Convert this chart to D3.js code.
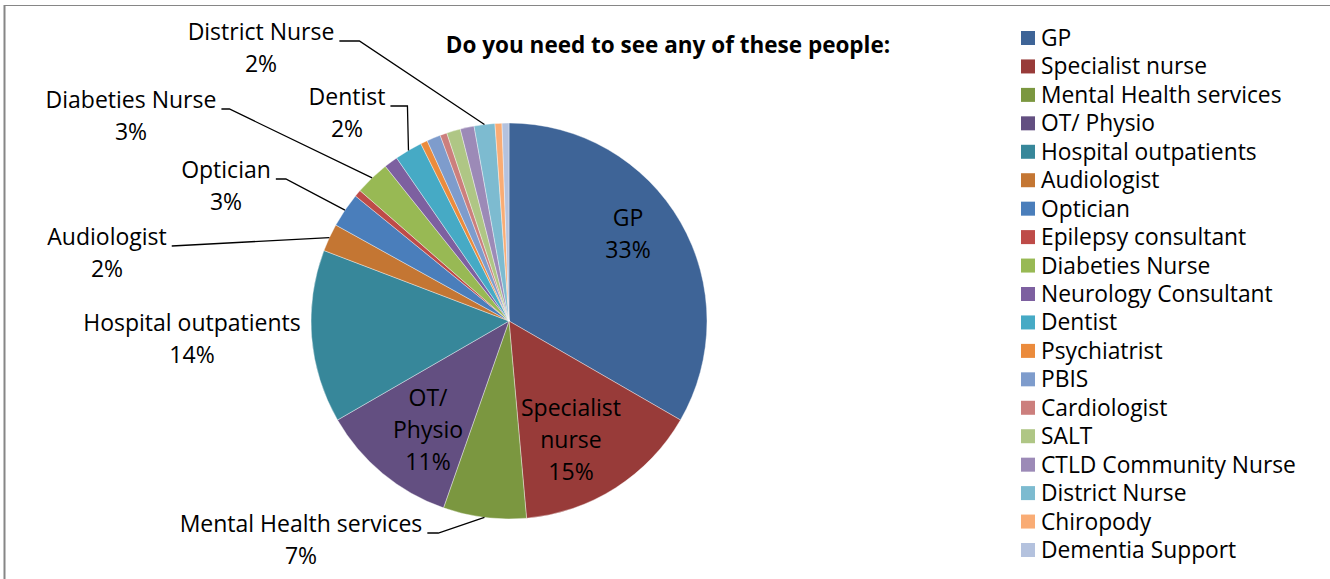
<!DOCTYPE html>
<html>
<head>
<meta charset="utf-8">
<script src="https://cdn.jsdelivr.net/npm/d3@7"></script>
<style>
  html, body { margin: 0; padding: 0; background: #ffffff; }
  svg { display: block; }
  text { font-family: "Open Sans", Lato, sans-serif; fill: #000; }
</style>
</head>
<body>
<svg id="chart" width="1330" height="579"></svg>
<script>
// ---- Data (counts per service) ----
const categories = [
  "GP", "Specialist nurse", "Mental Health services", "OT/ Physio",
  "Hospital outpatients", "Audiologist", "Optician", "Epilepsy consultant",
  "Diabeties Nurse", "Neurology Consultant", "Dentist", "Psychiatrist",
  "PBIS", "Cardiologist", "SALT", "CTLD Community Nurse", "District Nurse",
  "Chiropody", "Dementia Support"
];
const values = [59, 27, 12, 20, 25, 4, 5, 1, 5, 2, 4, 1, 2, 1, 2, 2, 3, 1, 1];
const colors = [
  "#3E6497", "#983B39", "#7B9740", "#634F81", "#37879A", "#C47633",
  "#4A7EBB", "#BE4B48", "#98B954", "#7D60A0", "#46AAC5", "#EB8B3C",
  "#7E9CCC", "#CC7F7D", "#AFC685", "#9C8AB7", "#7DBBD0", "#F9AC75",
  "#B4C2DE"
];
const titleText = "Do you need to see any of these people:";

// ---- Label layout (first-line centre relative to the pie centre) ----
const labelLayout = {
  "GP":                    { lines: ["GP"], dx: 119, dy: -103 },
  "Specialist nurse":      { lines: ["Specialist", "nurse"], dx: 62, dy: 87 },
  "OT/ Physio":            { lines: ["OT/", "Physio"], dx: -81, dy: 77 },
  "Mental Health services":{ lines: ["Mental Health services"], dx: -208, dy: 203, leader: 11 },
  "Hospital outpatients":  { lines: ["Hospital outpatients"], dx: -317, dy: 2 },
  "Audiologist":           { lines: ["Audiologist"], dx: -402, dy: -84, leader: 0 },
  "Optician":              { lines: ["Optician"], dx: -283, dy: -151, leader: 10 },
  "Diabeties Nurse":       { lines: ["Diabeties Nurse"], dx: -378, dy: -221, leader: 8 },
  "Dentist":               { lines: ["Dentist"], dx: -162, dy: -224, leader: 17 },
  "District Nurse":        { lines: ["District Nurse"], dx: -248, dy: -289, leader: 20 }
};

// ---- Setup ----
const W = 1330, H = 579;
const cx = 509, cy = 321, R = 198;
const fontSize = 23, lineH = 32;
const svg = d3.select("#chart");

// chart area border
svg.append("line").attr("x1", 4.5).attr("y1", 5).attr("x2", 4.5).attr("y2", H)
  .attr("stroke", "#868686").attr("stroke-width", 2);
svg.append("line").attr("x1", 4).attr("y1", 5.5).attr("x2", W).attr("y2", 5.5)
  .attr("stroke", "#868686").attr("stroke-width", 1.2);

const data = categories.map((c, i) => ({ name: c, value: values[i] }));
const total = d3.sum(values);
const color = d3.scaleOrdinal().domain(categories).range(colors);

const pie = d3.pie().sort(null).value(d => d.value).startAngle(0).endAngle(2 * Math.PI);
const arcs = pie(data);
const arc = d3.arc().innerRadius(0).outerRadius(R);
const edgeArc = d3.arc().innerRadius(R).outerRadius(R);

const g = svg.append("g").attr("transform", `translate(${cx},${cy})`);
g.selectAll("path.slice").data(arcs).join("path")
  .attr("class", "slice")
  .attr("d", arc)
  .attr("fill", d => color(d.data.name))
  .attr("stroke", "rgba(255,255,255,0.55)")
  .attr("stroke-width", 0.7);

// ---- Data labels ----
const lab = svg.append("g");
arcs.forEach(a => {
  const L = labelLayout[a.data.name];
  if (!L) return;
  const pct = Math.round(a.data.value / total * 100) + "%";
  const lines = L.lines.concat([pct]);
  const x = cx + L.dx;
  const firstY = cy + L.dy;
  const t = lab.append("text")
    .attr("text-anchor", "middle")
    .attr("font-size", fontSize);
  lines.forEach((ln, i) => {
    t.append("tspan").attr("x", x).attr("y", firstY + i * lineH + fontSize * 0.35).text(ln);
  });
  if (L.leader !== undefined) {
    const tmp = lab.append("text").attr("font-size", fontSize).text(lines[0]);
    const w = tmp.node().getComputedTextLength();
    tmp.remove();
    const sx = x + w / 2 + 5;
    const sy = firstY + 9;
    const e = edgeArc.centroid(a);
    const ex = cx + e[0], ey = cy + e[1];
    const pts = L.leader > 0 ? [[sx, sy], [sx + L.leader, sy], [ex, ey]] : [[sx, sy], [ex, ey]];
    lab.append("path")
      .attr("d", d3.line()(pts))
      .attr("fill", "none")
      .attr("stroke", "#000")
      .attr("stroke-width", 1.3);
  }
});

// ---- Title ----
svg.append("text")
  .attr("x", 668).attr("y", 45 + 7.5)
  .attr("text-anchor", "middle")
  .attr("font-size", 22.5)
  .attr("font-weight", "bold")
  .text(titleText);

// ---- Legend ----
const legendY = d3.scalePoint().domain(categories).range([38, 550]);
const leg = svg.append("g");
const items = leg.selectAll("g").data(categories).join("g")
  .attr("transform", d => `translate(1021,${legendY(d)})`);
items.append("rect").attr("x", 0).attr("y", -7).attr("width", 14).attr("height", 14)
  .attr("fill", d => color(d));
items.append("text").attr("x", 20).attr("y", 8).attr("font-size", 22.8).text(d => d);
</script>
</body>
</html>
